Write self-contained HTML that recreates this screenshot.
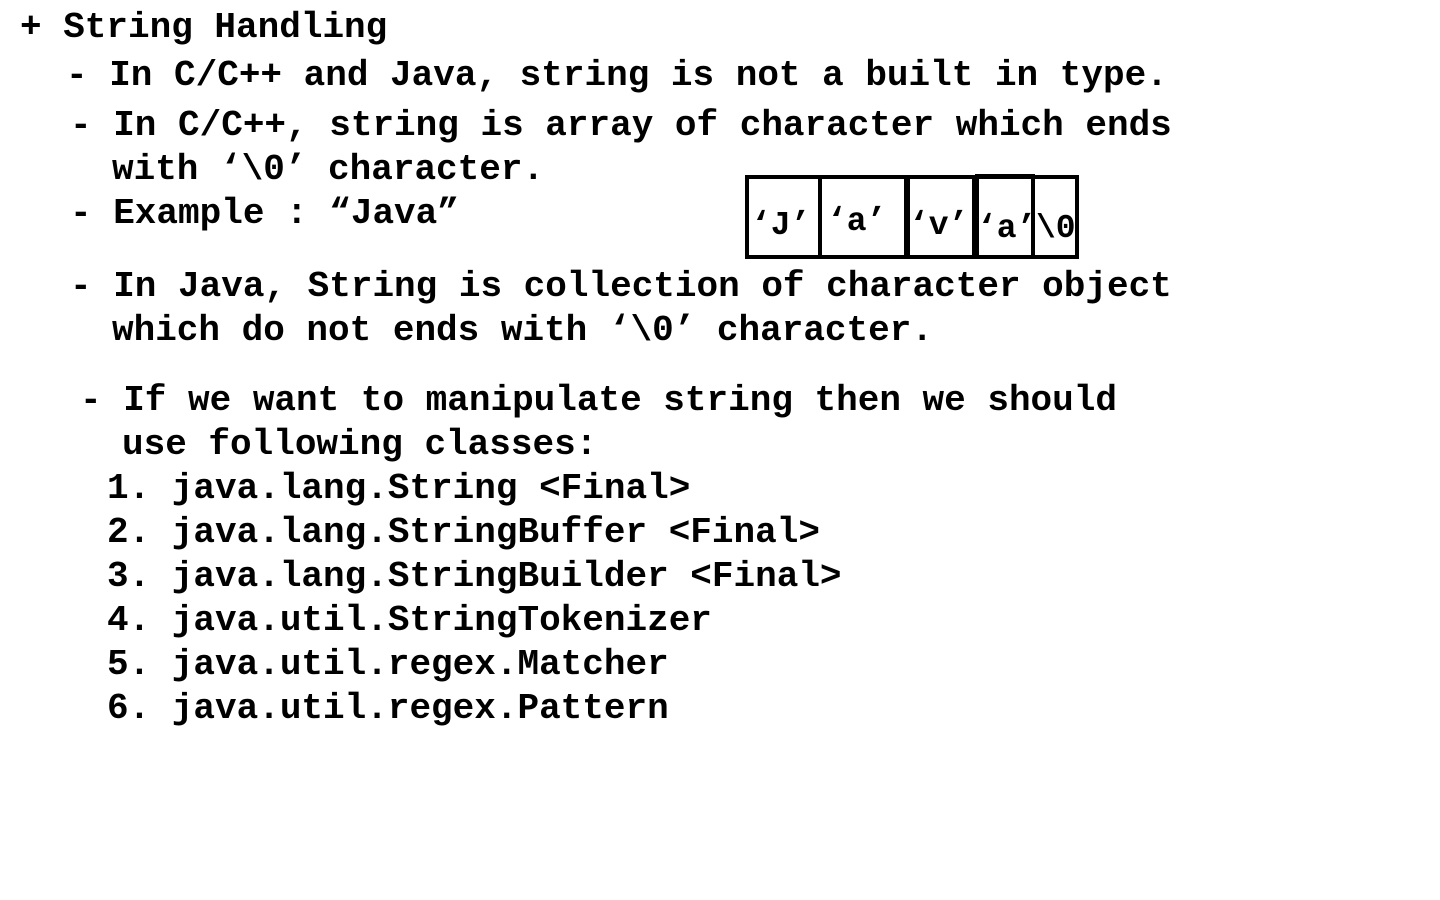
<!DOCTYPE html>
<html><head><meta charset="utf-8"><style>
html,body{margin:0;padding:0;background:#fff;width:1440px;height:900px;overflow:hidden;position:relative}
.l{position:absolute;font-family:"Liberation Mono","DejaVu Sans Mono",monospace;font-weight:bold;font-size:36px;line-height:44px;white-space:pre;color:#000}
.b{position:absolute;border:4px solid #000;box-sizing:border-box}
.c{position:absolute;font-family:"Liberation Mono",monospace;font-weight:bold;font-size:33px;line-height:32px;white-space:pre;color:#000}
</style></head><body>
<div class="l" style="left:20px;top:6px">+ String Handling</div>
<div class="l" style="left:66px;top:54px">- In C/C++ and Java, string is not a built in type.</div>
<div class="l" style="left:70px;top:104px">- In C/C++, string is array of character which ends</div>
<div class="l" style="left:112px;top:148px">with ‘\0’ character.</div>
<div class="l" style="left:70px;top:192px">- Example : “Java”</div>
<div class="l" style="left:70px;top:265px">- In Java, String is collection of character object</div>
<div class="l" style="left:112px;top:309px">which do not ends with ‘\0’ character.</div>
<div class="l" style="left:80px;top:379px">- If we want to manipulate string then we should</div>
<div class="l" style="left:122px;top:423px">use following classes:</div>
<div class="l" style="left:107px;top:467px">1. java.lang.String &lt;Final&gt;</div>
<div class="l" style="left:107px;top:511px">2. java.lang.StringBuffer &lt;Final&gt;</div>
<div class="l" style="left:107px;top:555px">3. java.lang.StringBuilder &lt;Final&gt;</div>
<div class="l" style="left:107px;top:599px">4. java.util.StringTokenizer</div>
<div class="l" style="left:107px;top:643px">5. java.util.regex.Matcher</div>
<div class="l" style="left:107px;top:687px">6. java.util.regex.Pattern</div>

<div class="b" style="left:745px;top:175px;width:334px;height:84px"></div>
<div class="b" style="left:818px;top:175px;width:90px;height:84px"></div>
<div class="b" style="left:905px;top:175px;width:71px;height:84px;border-left-width:5px"></div>
<div class="b" style="left:975px;top:174px;width:60px;height:85px"></div>
<div class="c" style="left:751px;top:210px">‘J’</div>
<div class="c" style="left:827px;top:206px">‘a’</div>
<div class="c" style="left:909px;top:210px">‘v’</div>
<div class="c" style="left:977px;top:213px">‘a’</div>
<div class="c" style="left:1036px;top:213px">\0</div>
</body></html>
